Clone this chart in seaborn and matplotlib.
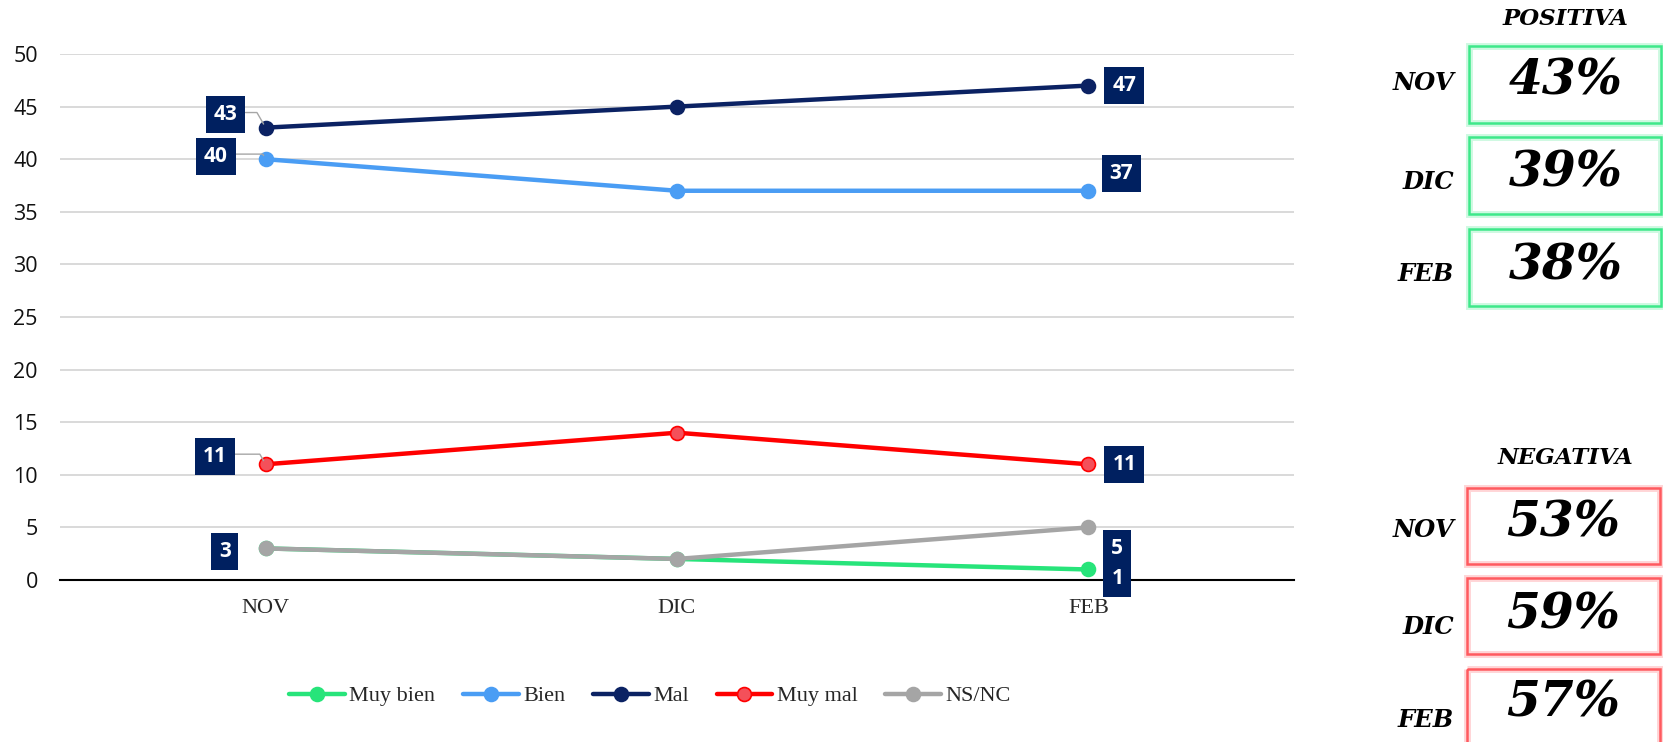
import matplotlib
matplotlib.use('Agg')
import matplotlib.pyplot as plt
from matplotlib.patches import Rectangle
import pandas as pd
import seaborn as sns

# data
months = ['NOV', 'DIC', 'FEB']
series = ['Muy bien', 'Bien', 'Mal', 'Muy mal', 'NS/NC']
muy_bien = [3, 2, 1]
bien = [40, 37, 37]
mal = [43, 45, 47]
muy_mal = [11, 14, 11]
nsnc = [3, 2, 5]

positiva = ['43%', '39%', '38%']
negativa = ['53%', '59%', '57%']

colors = {'Muy bien': '#27e47a', 'Bien': '#4a9df4', 'Mal': '#0b2263',
          'Muy mal': '#ff0000', 'NS/NC': '#a5a5a5'}
faces = {'Muy bien': '#27e47a', 'Bien': '#4a9df4', 'Mal': '#0b2263',
         'Muy mal': '#f4505a', 'NS/NC': '#a5a5a5'}

df = pd.DataFrame({'mes': months * 5,
                   'serie': [s for s in series for _ in months],
                   'valor': muy_bien + bien + mal + muy_mal + nsnc})

sns.set_style('white')
W, H = 1663, 742
fig = plt.figure(figsize=(W / 100, H / 100), dpi=100)
ax = fig.add_axes([60 / W, 1 - 580 / H, (1294 - 60) / W, (580 - 54) / H])

for s in series:
    d = df[df.serie == s]
    sns.lineplot(data=d, x='mes', y='valor', ax=ax, sort=False, color=colors[s],
                 lw=3.2, marker='o', markersize=10, markerfacecolor=faces[s],
                 markeredgecolor=colors[s], markeredgewidth=1.2, label=s,
                 clip_on=False)
if ax.get_legend():
    ax.get_legend().remove()

ax.set_xlim(-0.5, 2.5)
ax.set_ylim(0, 50)
ax.set_yticks(range(0, 51, 5))
ax.set_xlabel('')
ax.set_ylabel('')
ax.yaxis.grid(True, color='#d9d9d9', lw=1.4)
ax.set_axisbelow(True)
for sp in ['left', 'right', 'top']:
    ax.spines[sp].set_visible(False)
ax.spines['bottom'].set_color('black')
ax.spines['bottom'].set_linewidth(1.5)
ax.tick_params(axis='y', length=0, pad=16, labelsize=15.5, labelcolor='#111111')
ax.tick_params(axis='x', length=0, pad=14)
for t in ax.get_yticklabels():
    t.set_fontfamily('Open Sans')
for t in ax.get_xticklabels():
    t.set_fontfamily('Liberation Serif')
    t.set_fontsize(16)

# data labels (offsets in pixels)
labels = [
    (0, 43, -40, 13, True), (0, 40, -50, 3, True), (0, 11, -51, 8, True),
    (0, 3, -41, -3, False),
    (2, 47, 36, 0, False), (2, 37, 33, 17, False), (2, 11, 36, 0, False),
    (2, 5, 29, -21, False), (2, 1, 29, -9, False),
]
for i, v, dx, dy, leader in labels:
    kw = {}
    if leader:
        kw['arrowprops'] = dict(arrowstyle='-', color='#a6a6a6', lw=1,
                                shrinkA=0, shrinkB=3, relpos=(1, 0.6),
                                connectionstyle='angle,angleA=0,angleB=120,rad=0')
    ax.annotate(str(v), xy=(i, v), xytext=(dx, dy), textcoords='offset pixels',
                ha='center', va='center', color='white', fontsize=15,
                fontweight='bold', family='Open Sans', zorder=5,
                bbox=dict(boxstyle='square,pad=0.38', fc='#002060', ec='none'),
                **kw)

handles, labs = ax.get_legend_handles_labels()
fig.legend(handles, labs, loc='center', bbox_to_anchor=(650 / W, 1 - 696 / H),
           ncol=5, frameon=False, handlelength=2.5, handletextpad=0.2,
           columnspacing=1.25, prop={'family': 'Liberation Serif', 'size': 16})

# right panel in pixel coordinates
ov = fig.add_axes([0, 0, 1, 1], facecolor='none')
ov.set_xlim(0, W)
ov.set_ylim(H, 0)
ov.axis('off')

serif = dict(family='DejaVu Serif', style='italic', fontweight='bold', color='black')
ov.text(1565, 19, 'POSITIVA', ha='center', va='center', fontsize=16.5, **serif)
ov.text(1565, 458, 'NEGATIVA', ha='center', va='center', fontsize=16.5, **serif)

pos_boxes = [(46, 83, 78), (137, 182, 170), (229, 274, 263)]
neg_boxes = [(488, 530, 520), (578, 627, 612), (669, 720, 700)]
for (top, ly, ty), m, val in zip(pos_boxes, months, positiva):
    for lw, a in [(5, 0.25), (1.8, 1)]:
        ov.add_patch(Rectangle((1469, top), 192, 77, fill=False, ec='#3ee88a',
                               lw=lw, alpha=a, clip_on=False))
    ov.text(1454, ly, m, ha='right', va='center', fontsize=17.5, **serif)
    ov.text(1566, ty + 3, val, ha='center', va='center', fontsize=35, **serif)
for (top, ly, ty), m, val in zip(neg_boxes, months, negativa):
    for lw, a in [(5, 0.25), (1.8, 1)]:
        ov.add_patch(Rectangle((1467, top), 193, 76, fill=False, ec='#ff5a5f',
                               lw=lw, alpha=a, clip_on=False))
    ov.text(1454, ly, m, ha='right', va='center', fontsize=17.5, **serif)
    ov.text(1563, ty + 3, val, ha='center', va='center', fontsize=35, **serif)

fig.savefig('out.png', dpi=100)
